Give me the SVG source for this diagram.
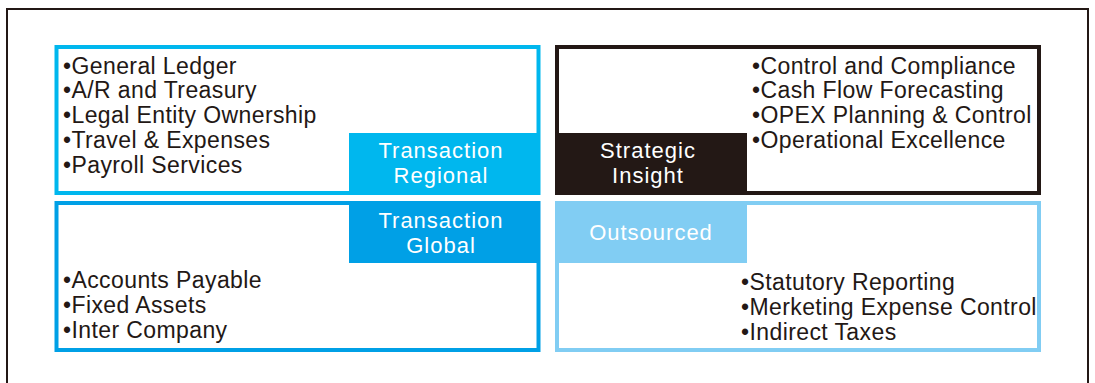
<svg xmlns="http://www.w3.org/2000/svg" width="1095" height="383" viewBox="0 0 1095 383">
  <style>
    .item { font-family: "Liberation Sans", Arial, sans-serif; font-size: 23px; letter-spacing: 0.4px; fill: #231815; }
    .label { font-family: "Liberation Sans", Arial, sans-serif; font-size: 22px; letter-spacing: 1px; fill: #ffffff; text-anchor: middle; }
    .box { fill: #ffffff; stroke-width: 4; }
  </style>
  <rect x="0" y="0" width="1095" height="383" fill="#ffffff"/>
  <!-- outer frame, open at the bottom -->
  <path d="M7,383 V9 H1088 V383" fill="none" stroke="#231815" stroke-width="2"/>

  <g id="transaction-regional">
    <rect class="box" x="56.5" y="47" width="482" height="146" stroke="#00b7ee"/>
    <rect x="349" y="133" width="191" height="62" fill="#00b7ee"/>
    <text class="label" x="441" y="157.5">Transaction</text>
    <text class="label" x="441" y="182.5">Regional</text>
    <text class="item" x="63" y="73.5">•General Ledger</text>
    <text class="item" x="63" y="98.3">•A/R and Treasury</text>
    <text class="item" x="63" y="123.1">•Legal Entity Ownership</text>
    <text class="item" x="63" y="147.9">•Travel &amp; Expenses</text>
    <text class="item" x="63" y="172.7">•Payroll Services</text>
  </g>

  <g id="transaction-global">
    <rect class="box" x="56.5" y="203" width="482" height="147" stroke="#00a0e6"/>
    <rect x="349" y="201" width="191" height="62" fill="#00a0e6"/>
    <text class="label" x="441" y="228">Transaction</text>
    <text class="label" x="441" y="252.5">Global</text>
    <text class="item" x="63" y="288.3">•Accounts Payable</text>
    <text class="item" x="63" y="313.1">•Fixed Assets</text>
    <text class="item" x="63" y="337.9">•Inter Company</text>
  </g>

  <g id="strategic-insight">
    <rect class="box" x="557" y="47" width="482" height="146" stroke="#231815"/>
    <rect x="555" y="133" width="192" height="62" fill="#231815"/>
    <text class="label" x="648" y="157.5">Strategic</text>
    <text class="label" x="648" y="182.5">Insight</text>
    <text class="item" x="752" y="73.5">•Control and Compliance</text>
    <text class="item" x="752" y="98.3">•Cash Flow Forecasting</text>
    <text class="item" x="752" y="123.1">•OPEX Planning &amp; Control</text>
    <text class="item" x="752" y="147.9">•Operational Excellence</text>
  </g>

  <g id="outsourced">
    <rect class="box" x="557" y="203" width="482" height="147" stroke="#81cdf3"/>
    <rect x="555" y="201" width="192" height="62" fill="#81cdf3"/>
    <text class="label" x="651" y="239.5">Outsourced</text>
    <text class="item" x="741" y="290">•Statutory Reporting</text>
    <text class="item" x="741" y="314.8">•Merketing Expense Control</text>
    <text class="item" x="741" y="339.6">•Indirect Taxes</text>
  </g>

  <g id="connectors"/>
</svg>
